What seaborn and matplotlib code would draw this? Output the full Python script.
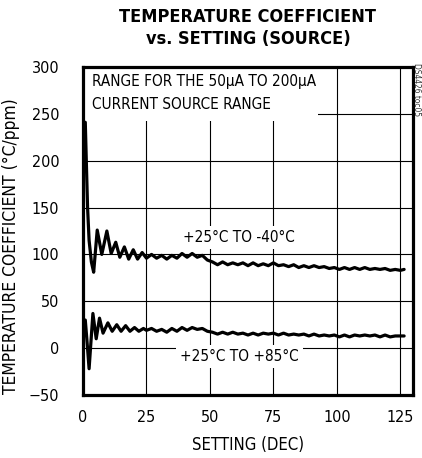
import numpy as np
import pandas as pd
import seaborn as sns
import matplotlib.pyplot as plt
from matplotlib.patches import Rectangle

# upper curve: +25C to -40C
cold_x = [0.9, 1.3, 1.8, 2.4, 3.3, 4.2, 5.6, 7.4, 9.4, 11.1, 12.9, 14.5, 16.3, 18.0, 19.8, 21.5, 23.3,
          25, 27, 29, 31, 33, 35, 37, 39, 41, 43, 45, 47, 49, 51, 53, 55, 57, 59, 61, 63, 65, 67, 69,
          71, 73, 75, 77, 79, 81, 83, 85, 87, 89, 91, 93, 95, 97, 99, 101, 103, 105, 107, 109, 111,
          113, 115, 117, 119, 121, 123, 125, 126.5]
cold_y = [241, 200, 150, 115, 92, 81, 126, 100, 125, 101, 113, 97, 108, 95, 105, 95, 102,
          96, 100, 96, 99, 95, 99, 96, 101, 97, 101, 97, 99, 94, 92, 89, 92, 89, 91, 89, 91, 88, 91, 88,
          90, 88, 91, 88, 89, 87, 89, 86, 88, 86, 88, 86, 87, 85, 86, 84, 86, 84, 86, 84, 86,
          84, 85, 84, 85, 83, 84, 83, 84]

# lower curve: +25C to +85C
hot_x = [0.9, 1.5, 2.4, 3.9, 5.2, 6.5, 7.9, 9.8, 11.5, 13.3, 15.0, 16.8, 18.5, 20.3, 22.0, 23.8,
         25, 27, 29, 31, 33, 35, 37, 39, 41, 43, 45, 47, 49, 51, 53, 55, 57, 59, 61, 63, 65, 67, 69,
         71, 73, 75, 77, 79, 81, 83, 85, 87, 89, 91, 93, 95, 97, 99, 101, 103, 105, 107, 109, 111,
         113, 115, 117, 119, 121, 123, 125, 126.5]
hot_y = [30, 10, -22, 37, 10, 32, 16, 27, 18, 25, 18, 24, 18, 22, 18, 21,
         19, 21, 18, 20, 17, 21, 18, 22, 19, 22, 20, 21, 18, 17, 15, 17, 15, 17, 15, 16, 14, 16, 14,
         16, 15, 16, 14, 16, 14, 15, 14, 15, 13, 15, 13, 14, 13, 14, 12, 14, 12, 14, 13, 14,
         13, 14, 12, 14, 12, 13, 13, 13]

x_ticks = [0, 25, 50, 75, 100, 125]
y_ticks = [-50, 0, 50, 100, 150, 200, 250, 300]

sns.set_style("white")
plt.rcParams['font.family'] = ['DejaVu Sans']
plt.rcParams['font.stretch'] = 'condensed'
plt.rcParams['text.color'] = 'black'
plt.rcParams['axes.labelcolor'] = 'black'
plt.rcParams['xtick.color'] = 'black'
plt.rcParams['ytick.color'] = 'black'

fig = plt.figure(figsize=(4.22, 4.58), dpi=100)
ax = fig.add_axes([83 / 422, 63 / 458, 330 / 422, 328 / 458])

cold = pd.DataFrame({"x": cold_x, "y": cold_y})
hot = pd.DataFrame({"x": hot_x, "y": hot_y})
sns.lineplot(data=cold, x="x", y="y", sort=False, color="black", linewidth=2.3, ax=ax, zorder=4)
sns.lineplot(data=hot, x="x", y="y", sort=False, color="black", linewidth=2.3, ax=ax, zorder=4)

ax.set_xlim(0, 130)
ax.set_ylim(-50, 300)
ax.set_xticks(x_ticks)
ax.set_yticks(y_ticks)
ax.grid(True, color="black", linewidth=0.8, zorder=1)
ax.set_axisbelow(True)
ax.tick_params(length=0, labelsize=11.5, pad=11)
ax.tick_params(axis="y", pad=17)
for s in ax.spines.values():
    s.set_linewidth(2.3)
    s.set_color("black")
    s.set_zorder(6)

ax.set_xlabel("SETTING (DEC)", fontsize=12)
ax.set_ylabel("TEMPERATURE COEFFICIENT (°C/ppm)", fontsize=12.5)
ax.xaxis.set_label_coords(0.5, -0.125)
ax.yaxis.set_label_coords(-0.19, 0.455)

# white box behind the note text
ax.add_patch(Rectangle((0, 242), 92.7, 58, facecolor="white", edgecolor="none", zorder=3))
ax.text(3.5, 292, "RANGE FOR THE 50µA TO 200µA\nCURRENT SOURCE RANGE", fontsize=11,
        va="top", ha="left", linespacing=1.6, zorder=5)

box = dict(facecolor="white", edgecolor="none", pad=3)
ax.text(61.5, 118, "+25°C TO -40°C", fontsize=11, ha="center", va="center", bbox=box, zorder=3)
ax.text(61.7, -9, "+25°C TO +85°C", fontsize=11, ha="center", va="center", bbox=box, zorder=3)

fig.text(248 / 422, 1 - 8 / 458, "TEMPERATURE COEFFICIENT\nvs. SETTING (SOURCE)",
         ha="center", va="top", fontsize=13, fontweight="bold", linespacing=1.3)
fig.text(417 / 422, 1 - 63 / 458, "DS4426 toc05", rotation=-90, fontsize=6,
         ha="center", va="top", color="#333333")

fig.savefig("out.png", dpi=100)
